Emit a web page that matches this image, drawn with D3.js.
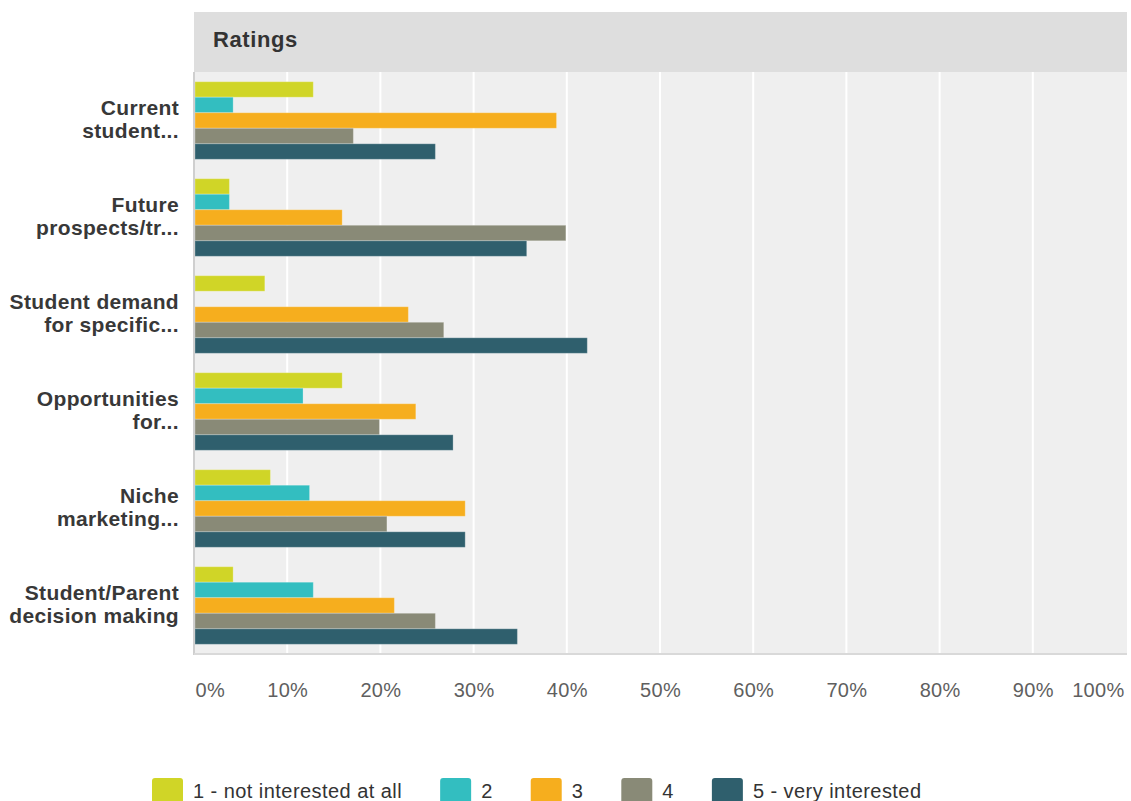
<!DOCTYPE html>
<html>
<head>
<meta charset="utf-8">
<script src="https://cdn.jsdelivr.net/npm/d3@7"></script>
<style>
  html, body { margin: 0; padding: 0; background: #fff; }
  svg { display: block; font-family: "Liberation Sans", Arial, sans-serif; }
</style>
</head>
<body>
<svg id="chart" width="1131" height="801"></svg>
<script>
// ---- data ----
const categories = [
  ["Current", "student..."],
  ["Future", "prospects/tr..."],
  ["Student demand", "for specific..."],
  ["Opportunities", "for..."],
  ["Niche", "marketing..."],
  ["Student/Parent", "decision making"]
];
const seriesNames = ["1 - not interested at all", "2", "3", "4", "5 - very interested"];
const seriesColors = ["#d0d527", "#33bec0", "#f6ae1e", "#898a77", "#2f5f6d"];
const rating1 = [12.8, 3.8, 7.6, 15.9, 8.2, 4.2];
const rating2 = [4.2, 3.8, 0, 11.7, 12.4, 12.8];
const rating3 = [38.9, 15.9, 23.0, 23.8, 29.1, 21.5];
const rating4 = [17.1, 39.9, 26.8, 19.9, 20.7, 25.9];
const rating5 = [25.9, 35.7, 42.2, 27.8, 29.1, 34.7];
const seriesValues = [rating1, rating2, rating3, rating4, rating5];
const tickValues = [0, 10, 20, 30, 40, 50, 60, 70, 80, 90, 100];
const headerTitle = "Ratings";

// ---- layout ----
const svg = d3.select("#chart");
const L = 194, R = 1126, headerTop = 12, plotTop = 72, plotBottom = 654;

const x = d3.scaleLinear().domain([0, 100]).range([L, R]);
const yGroup = d3.scaleBand().domain(d3.range(categories.length))
  .range([plotTop, plotBottom]).paddingInner(0.2).paddingOuter(0.1);
const ySeries = d3.scaleBand().domain(d3.range(seriesNames.length))
  .range([0, yGroup.bandwidth()]);

// header
svg.append("rect").attr("x", L).attr("y", headerTop).attr("width", R - L + 1)
  .attr("height", plotTop - headerTop).attr("fill", "#dedede");
svg.append("text").attr("x", L + 19).attr("y", 47).text(headerTitle)
  .attr("font-size", 22).attr("font-weight", "bold").attr("fill", "#333")
  .attr("letter-spacing", 0.6);

// plot background
svg.append("rect").attr("x", L).attr("y", plotTop).attr("width", R - L + 1)
  .attr("height", plotBottom - plotTop).attr("fill", "#efefef");

// gridlines
svg.append("g").selectAll("line").data(tickValues.filter(d => d > 0 && d < 100)).join("line")
  .attr("x1", d => x(d)).attr("x2", d => x(d))
  .attr("y1", plotTop).attr("y2", plotBottom)
  .attr("stroke", "#fff").attr("stroke-width", 2);

// bars
const groups = svg.append("g").selectAll("g").data(categories).join("g")
  .attr("transform", (d, i) => `translate(0,${yGroup(i)})`);
groups.selectAll("rect").data((d, i) => seriesValues.map((s, k) => ({ k, v: s[i] })))
  .join("rect")
  .attr("x", x(0) + 1)
  .attr("y", d => ySeries(d.k))
  .attr("width", d => Math.max(0, x(d.v) - x(0) - 1))
  .attr("height", ySeries.bandwidth())
  .attr("fill", d => seriesColors[d.k])
  .attr("stroke", d => d.v > 0 ? "rgba(255,255,255,0.25)" : "none")
  .attr("stroke-width", 1);

// axis lines
svg.append("line").attr("x1", L).attr("x2", L).attr("y1", plotTop).attr("y2", plotBottom + 1)
  .attr("stroke", "#cfcfcf").attr("stroke-width", 2);
svg.append("line").attr("x1", L).attr("x2", R + 1).attr("y1", plotBottom).attr("y2", plotBottom)
  .attr("stroke", "#d9d9d9").attr("stroke-width", 2);

// x-axis tick labels
const xAxis = d3.axisBottom(x).tickValues(tickValues).tickFormat(d => d + "%").tickSize(0);
const gx = svg.append("g").attr("transform", `translate(0,${plotBottom})`).call(xAxis);
gx.select(".domain").remove();
gx.selectAll("text")
  .attr("y", 0).attr("dy", 0)
  .attr("transform", "translate(0,43)")
  .attr("font-family", "Liberation Sans, Arial, sans-serif")
  .attr("font-size", 20).attr("fill", "#5f5f5f")
  .attr("letter-spacing", 0.3)
  .attr("text-anchor", d => d === 0 ? "start" : (d === 100 ? "end" : "middle"))
  .attr("x", d => d === 0 ? 1 : (d === 100 ? -2 : 0));

// y category labels
const yl = svg.append("g").selectAll("text").data(categories).join("text")
  .attr("text-anchor", "end")
  .attr("font-size", 21).attr("font-weight", "bold").attr("fill", "#383838")
  .attr("letter-spacing", 0.35);
yl.each(function(d, i) {
  const c = yGroup(i) + yGroup.bandwidth() / 2;
  const t = d3.select(this);
  d.forEach((line, j) => {
    t.append("tspan").attr("x", 179).attr("y", c - 5.5 + j * 23).text(line);
  });
});

// legend
const legend = svg.append("g");
let lx = 152;
seriesNames.forEach((name, k) => {
  legend.append("rect").attr("x", lx).attr("y", 778).attr("width", 31).attr("height", 26)
    .attr("rx", 3).attr("fill", seriesColors[k]);
  const t = legend.append("text").attr("x", lx + 41).attr("y", 798)
    .attr("font-size", 20).attr("fill", "#333").attr("letter-spacing", 0.45).text(name);
  const w = t.node().getComputedTextLength();
  lx = lx + 41 + w + 38;
});
</script>
</body>
</html>
